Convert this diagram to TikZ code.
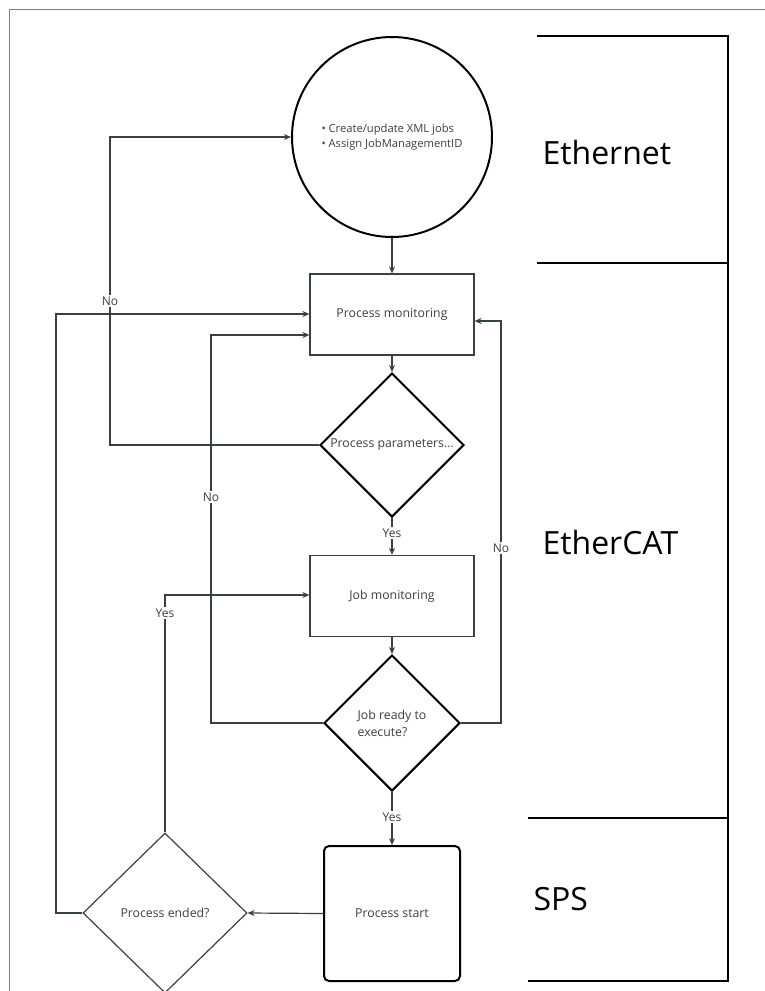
\documentclass[tikz,border=0pt]{standalone}
\usepackage{fontspec}
\setmainfont{Open Sans}
\usetikzlibrary{shapes.geometric,arrows.meta}
\definecolor{wire}{RGB}{55,65,70}
\definecolor{txt}{RGB}{60,62,64}

\begin{document}
\begin{tikzpicture}[x=1pt,y=-1pt,>={Stealth[length=7pt,width=6pt]}]
    \tikzstyle{box}=[rectangle,draw=wire,line width=1.2pt,minimum width=164pt,minimum height=81pt,inner sep=0pt,text=txt,font=\fontsize{12.3}{15}\selectfont]
    \tikzstyle{decision}=[diamond,aspect=1,draw=black,line width=2pt,inner sep=0pt,align=left,text=txt,font=\fontsize{12.3}{17}\selectfont]
    \tikzstyle{lbl}=[fill=white,inner sep=1.5pt,text=txt,font=\fontsize{12}{14}\selectfont]
    \tikzstyle{lane}=[anchor=base west,font=\fontsize{32}{38}\selectfont]
    \tikzstyle{flow}=[->,draw=wire,line width=1.2pt]

    \useasboundingbox (0,0) rectangle (765,991);
    \clip (0,0) rectangle (765,991);
    \draw[gray,line width=0.8pt] (9,9) rectangle (800,1020);

    % bus levels on the right
    \draw[line width=1.5pt] (537,36) -- (728,36) -- (728,981) -- (528,981);
    \foreach \x/\y in {537/263, 528/818}
        \draw[line width=1.5pt] (\x,\y) -- (728,\y);
    \foreach \name/\x/\y in {Ethernet/539/164, EtherCAT/539/554, SPS/530/910}
        \node[lane] (lane-\name) at (\x,\y) {\name};

    % flow chart
    \node[circle,draw=black,line width=2pt,minimum size=200pt,inner sep=0pt,align=left,text=txt,font=\fontsize{11.2}{15}\selectfont] (jobs) at (392,137) {• Create/update XML jobs\\• Assign JobManagementID};
    \node[box] (pm) at (392,314.5) {Process monitoring};
    \node[decision,minimum size=144pt] (pp) at (392,445) {Process parameters…};
    \node[box] (jm) at (392,596) {Job monitoring};
    \node[decision,minimum size=136pt] (jr) at (392,723) {Job ready to\\execute?};
    \node[box,rounded corners=5pt,draw=black,line width=2pt,minimum width=136pt,minimum height=135pt] (ps) at (392,913.5) {Process start};
    \node[decision,draw=wire,line width=1.2pt,minimum width=164pt,minimum height=160pt] (pe) at (165,913) {Process ended?};

    \draw[flow] (jobs.south) -- (pm.north);
    \draw[flow] (pm.south) -- (pp.north);
    \coordinate (c-no1) at (110,137);
    \draw[flow] (pp.west) -| (c-no1) -- (jobs.west);
    \node[lbl] (no1) at (110,301) {No};

    \draw[flow] (pp.south) -- (jm.north);
    \node[lbl] (yes1) at (392,533) {Yes};
    \draw[flow] (jm.south) -- (jr.north);

    \coordinate (c-no2) at (211,335);
    \draw[flow] (jr.west) -| (c-no2) -- (c-no2 -| pm.west);
    \node[lbl] (no2) at (211,497) {No};
    \coordinate (c-no3) at (501,321);
    \draw[flow] (jr.east) -| (c-no3) -- (c-no3 -| pm.east);
    \node[lbl] (no3) at (501,548) {No};

    \draw[flow] (jr.south) -- (ps.north);
    \node[lbl] (yes2) at (392,817) {Yes};
    \draw[flow] (ps.west) -- (pe.east);

    \coordinate (c-loop) at (56,314);
    \draw[flow] (pe.west) -| (c-loop) -- (c-loop -| pm.west);
    \coordinate (c-yes3) at (165,595);
    \draw[flow] (pe.north) -- (c-yes3) -- (c-yes3 -| jm.west);
    \node[lbl] (yes3) at (165,613) {Yes};
    % \draw (pe.south) -- (165,991);
\end{tikzpicture}
\end{document}
